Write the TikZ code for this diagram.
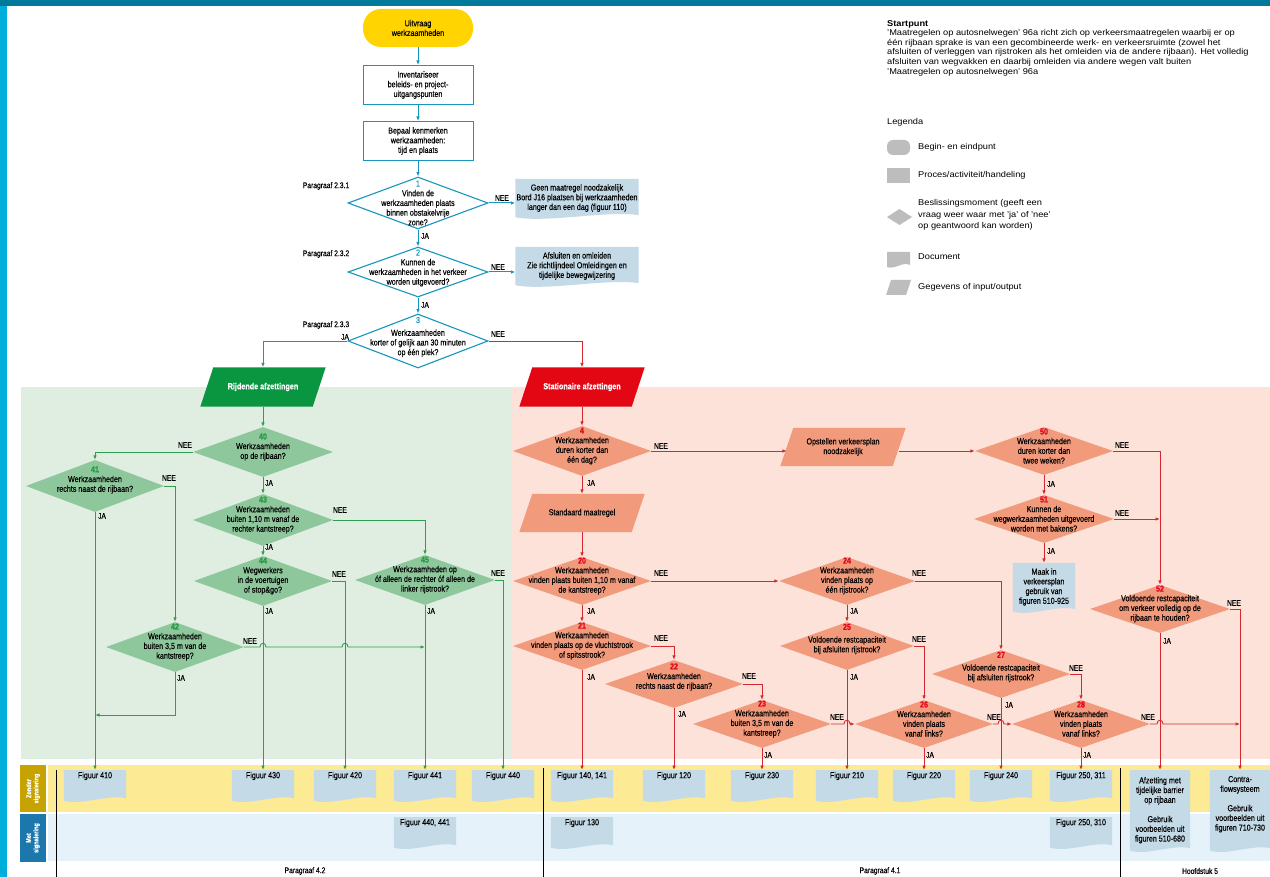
\documentclass[tikz,border=0pt]{standalone}
\usepackage{fontspec}
\setmainfont{Liberation Sans}[FakeStretch=0.82,FakeBold=0.25]
\newfontfamily\legfont{Liberation Sans}[FakeStretch=1.1]
\usetikzlibrary{shapes.geometric,arrows.meta,calc}
\pgfdeclarelayer{bg}
\pgfdeclarelayer{mid}
\pgfsetlayers{bg,mid,main}
\definecolor{topbar}{HTML}{00799B}
\definecolor{cyanstrip}{HTML}{00AEDB}
\definecolor{bline}{HTML}{1596BE}
\definecolor{gline}{HTML}{2E9E4F}
\definecolor{rline}{HTML}{D42A2F}
\definecolor{gdia}{HTML}{8FC79C}
\definecolor{rdia}{HTML}{F19A7C}
\definecolor{gnum}{HTML}{1F9A3E}
\definecolor{rnum}{HTML}{E2001A}
\definecolor{gpar}{HTML}{0A9640}
\definecolor{rpar}{HTML}{E30613}
\definecolor{docblue}{HTML}{C5DAE7}
\definecolor{greenbg}{HTML}{DFEEE0}
\definecolor{salmonbg}{HTML}{FCE2D8}
\definecolor{yband}{HTML}{FDEA95}
\definecolor{bband}{HTML}{E5F2FA}
\definecolor{goldside}{HTML}{C6A300}
\definecolor{blueside}{HTML}{1C77AC}
\definecolor{startyel}{HTML}{FFD400}
\definecolor{leggray}{HTML}{BDBDBD}
\newcommand{\gn}[1]{\textcolor{gnum}{\bfseries #1}}
\newcommand{\rn}[1]{\textcolor{rnum}{\bfseries #1}}
\newcommand{\docfill}[2]{%
  \begin{pgfonlayer}{mid}
  \fill[#1] (#2.north west) -- (#2.north east) -- ($(#2.south east)+(0,-2)$)
   .. controls ($(#2.south)!0.5!(#2.south east)+(0,-7)$) and ($(#2.south)!0.5!(#2.south west)+(0,6)$) .. (#2.south west) -- cycle;
  \end{pgfonlayer}}
\newcommand{\parfill}[2]{%
  \begin{pgfonlayer}{mid}
  \fill[#1] ($(#2.north west)+(6.5,0)$) -- ($(#2.north east)+(6.5,0)$) -- ($(#2.south east)+(-6.5,0)$) -- ($(#2.south west)+(-6.5,0)$) -- cycle;
  \end{pgfonlayer}}
\tikzset{
  txt/.style={font=\fontsize{8.7}{9.7}\selectfont, align=center, inner sep=0pt},
  lab/.style={font=\fontsize{8.2}{8.5}\selectfont, inner sep=0pt},
  legt/.style={font=\legfont\fontsize{8.4}{9.6}\selectfont, inner sep=0pt, anchor=west},
  dia/.style n args={3}{diamond, fill=#1, inner sep=0pt, minimum width=#2pt, minimum height=#3pt},
  bdia/.style 2 args={diamond, draw=bline, line width=1.1pt, fill=white, inner sep=0pt, minimum width=#1pt, minimum height=#2pt},
  proc/.style={txt, draw=bline, line width=1pt, fill=white, minimum width=110pt, minimum height=39pt},
  partxt/.style={txt, minimum width=112pt, minimum height=38pt},
  fig/.style={font=\fontsize{8.7}{9.7}\selectfont, inner xsep=0pt, inner ysep=2pt, minimum width=62pt, text height=6pt, text depth=20pt, anchor=north},
  bl/.style={draw=bline, line width=1pt, ->},
  gl/.style={draw=gline, line width=0.9pt},
  rl/.style={draw=rline, line width=0.9pt},
  sidel/.style={rotate=90, text=white, font=\fontsize{6.8}{7.4}\selectfont\bfseries, align=center, inner sep=0pt}
}
\begin{document}
\begin{tikzpicture}[x=1pt,y=-1pt,>={Latex[length=4.5pt,width=3.6pt]}]
\useasboundingbox (0,0) rectangle (1270,877);
\begin{pgfonlayer}{bg}
\fill[white] (0,0) rectangle (1270,877);
\fill[topbar] (0,0) rectangle (1270,6);
\fill[cyanstrip] (0,6) rectangle (7,877);
\fill[greenbg] (21,387) rectangle (511,759);
\fill[salmonbg] (511,387) rectangle (1270,759);
\fill[yband] (48,765) rectangle (1270,812);
\fill[bband] (48,814) rectangle (1270,861);
\fill[goldside] (20,765) rectangle (46,812);
\fill[blueside] (20,814) rectangle (46,862);
\end{pgfonlayer}
\draw[black, line width=0.7pt] (56,770) -- (56,877);
\draw[black, line width=0.7pt] (543,768) -- (543,877);
\draw[black, line width=0.7pt] (1120,768) -- (1120,877);

% ---------- legend ----------
\node[anchor=north west, align=left, inner sep=0pt, font=\legfont\fontsize{8.4}{9.6}\selectfont] (sp) at (887,20)
 {\textbf{Startpunt}\\
  ’Maatregelen op autosnelwegen’ 96a richt zich op verkeersmaatregelen waarbij er op\\
  één rijbaan sprake is van een gecombineerde werk- en verkeersruimte (zowel het\\
  afsluiten of verleggen van rijstroken als het omleiden via de andere rijbaan). Het volledig\\
  afsluiten van wegvakken en daarbij omleiden via andere wegen valt buiten\\
  ’Maatregelen op autosnelwegen’ 96a};
\node[legt] (lg) at (887,122) {Legenda};
\fill[leggray, rounded corners=6pt] (887,140) rectangle (910,155);
\node[legt] (lg1) at (918,147) {Begin- en eindpunt};
\fill[leggray] (887,168) rectangle (910,183);
\node[legt] (lg2) at (918,175) {Proces/activiteit/handeling};
\fill[leggray] (887,217) -- (899.5,209) -- (912,217) -- (899.5,225) -- cycle;
\node[legt, align=left] (lg3) at (918,215) {Beslissingsmoment (geeft een\\[2pt]vraag weer waar met ’ja’ of ’nee’\\[2pt]op geantwoord kan worden)};
\fill[leggray] (887,252) -- (910,252) -- (910,265) .. controls (903,261) and (895,270) .. (887,267) -- cycle;
\node[legt] (lg4) at (918,257) {Document};
\fill[leggray] (891,280) -- (911,280) -- (906,295) -- (886,295) -- cycle;
\node[legt] (lg5) at (918,287) {Gegevens of input/output};

% ---------- top flow ----------
\node[txt, fill=startyel, rounded corners=18pt, minimum width=110pt, minimum height=38pt] (start) at (418,28) {Uitvraag\\werkzaamheden};
\node[proc] (p1) at (418,85) {Inventariseer\\beleids- en project-\\uitgangspunten};
\node[proc] (p2) at (418,141) {Bepaal kenmerken\\werkzaamheden:\\tijd en plaats};
\node[bdia={140}{52}] (d1) at (418,203) {};
\node[txt] (t1) at (418,203) {\textcolor{bline}{1}\\Vinden de\\werkzaamheden plaats\\binnen obstakelvrije\\zone?};
\node[bdia={140}{50}] (d2) at (418,272) {};
\node[txt] (t2) at (418,268) {\textcolor{bline}{2}\\Kunnen de\\werkzaamheden in het verkeer\\worden uitgevoerd?};
\node[bdia={140}{54}] (d3) at (418,341) {};
\node[txt] (t3) at (418,337) {\textcolor{bline}{3}\\[3pt]Werkzaamheden\\korter of gelijk aan 30 minuten\\op één plek?};
\node[lab] (pa1) at (326,186) {Paragraaf 2.3.1};
\node[lab] (pa2) at (326,254) {Paragraaf 2.3.2};
\node[lab] (pa3) at (326,325) {Paragraaf 2.3.3};
\node[txt, minimum width=123pt, minimum height=38pt] (doc1) at (577,198) {Geen maatregel noodzakelijk\\Bord J16 plaatsen bij werkzaamheden\\langer dan een dag (figuur 110)};
\docfill{docblue}{doc1}
\node[txt, minimum width=123pt, minimum height=38pt] (doc2) at (577,266) {Afsluiten en omleiden\\Zie richtlijndeel Omleidingen en\\tijdelijke bewegwijzering};
\docfill{docblue}{doc2}
\draw[bl] (start) -- (p1);
\draw[bl] (p1) -- (p2);
\draw[bl] (p2) -- (d1);
\draw[bl] (d1.east) -- (d1.east -| doc1.west);
\draw[bl] (d1) -- (d2);
\draw[bl] (d2.east) -- (d2.east -| doc2.west);
\draw[bl] (d2) -- (d3);
\node[lab] (l1n) at (502,198) {NEE};
\node[lab] (l1j) at (425,236) {JA};
\node[lab] (l2n) at (498,267) {NEE};
\node[lab] (l2j) at (425,305) {JA};
\node[lab] (l3n) at (498,334) {NEE};
\node[lab] (l3j) at (345,337) {JA};

% ---------- parallelograms ----------
\node[partxt, text=white, font=\fontsize{8.8}{9}\selectfont\bfseries, minimum height=39pt] (rij) at (263,387) {Rijdende afzettingen};
\parfill{gpar}{rij}
\node[partxt, text=white, font=\fontsize{8.8}{9}\selectfont\bfseries, minimum height=39pt] (stat) at (582,387) {Stationaire afzettingen};
\parfill{rpar}{stat}
\node[partxt] (std) at (582,513) {Standaard maatregel};
\parfill{rdia}{std}
\node[partxt] (opst) at (843,447) {Opstellen verkeersplan\\noodzakelijk};
\parfill{rdia}{opst}
\draw[gl,->] (d3.west) -| (rij.north);
\draw[rl,->] (d3.east) -| (stat.north);

% ---------- green diamonds ----------
\node[dia={gdia}{140}{50}] (d40) at (263,452) {};
\node[txt] (t40) at ($(d40)+(0,-5)$) {\gn{40}\\Werkzaamheden\\op de rijbaan?};
\node[dia={gdia}{138}{52}] (d41) at (95,486) {};
\node[txt] (t41) at ($(d41)+(0,-6)$) {\gn{41}\\Werkzaamheden\\rechts naast de rijbaan?};
\node[dia={gdia}{140}{52}] (d43) at (263,520) {};
\node[txt] (t43) at ($(d43)+(0,-5)$) {\gn{43}\\Werkzaamheden\\buiten 1,10 m vanaf de\\rechter kantstreep?};
\node[dia={gdia}{138}{50}] (d44) at (263,581) {};
\node[txt] (t44) at ($(d44)+(0,-5)$) {\gn{44}\\Wegwerkers\\in de voertuigen\\of stop\&go?};
\node[dia={gdia}{140}{50}] (d45) at (425,580) {};
\node[txt] (t45) at ($(d45)+(0,-5)$) {\gn{45}\\Werkzaamheden op\\óf alleen de rechter óf alleen de\\linker rijstrook?};
\node[dia={gdia}{138}{50}] (d42) at (175,647) {};
\node[txt] (t42) at ($(d42)+(0,-5)$) {\gn{42}\\Werkzaamheden\\buiten 3,5 m van de\\kantstreep?};

% ---------- red diamonds ----------
\node[dia={rdia}{138}{50}] (d4) at (582,451) {};
\node[txt] (t4) at ($(d4)+(0,-5)$) {\rn{4}\\Werkzaamheden\\duren korter dan\\één dag?};
\node[dia={rdia}{138}{48}] (d20) at (582,581) {};
\node[txt] (t20) at ($(d20)+(0,-5)$) {\rn{20}\\Werkzaamheden\\vinden plaats buiten 1,10 m vanaf\\de kantstreep?};
\node[dia={rdia}{138}{48}] (d21) at (582,646) {};
\node[txt] (t21) at ($(d21)+(0,-5)$) {\rn{21}\\Werkzaamheden\\vinden plaats op de vluchtstrook\\of spitsstrook?};
\node[dia={rdia}{138}{48}] (d22) at (674,684) {};
\node[txt] (t22) at ($(d22)+(0,-7)$) {\rn{22}\\Werkzaamheden\\rechts naast de rijbaan?};
\node[dia={rdia}{138}{48}] (d23) at (762,724) {};
\node[txt] (t23) at ($(d23)+(0,-5)$) {\rn{23}\\Werkzaamheden\\buiten 3,5 m van de\\kantstreep?};
\node[dia={rdia}{136}{48}] (d24) at (847,581) {};
\node[txt] (t24) at ($(d24)+(0,-5)$) {\rn{24}\\Werkzaamheden\\vinden plaats op\\één rijstrook?};
\node[dia={rdia}{134}{48}] (d25) at (847,646) {};
\node[txt] (t25) at ($(d25)+(0,-7)$) {\rn{25}\\[3pt]Voldoende restcapaciteit\\bij afsluiten rijstrook?};
\node[dia={rdia}{138}{48}] (d26) at (924,724) {};
\node[txt] (t26) at ($(d26)+(0,-5)$) {\rn{26}\\Werkzaamheden\\vinden plaats\\vanaf links?};
\node[dia={rdia}{138}{48}] (d27) at (1001,674) {};
\node[txt] (t27) at ($(d27)+(0,-7)$) {\rn{27}\\[3pt]Voldoende restcapaciteit\\bij afsluiten rijstrook?};
\node[dia={rdia}{138}{48}] (d28) at (1081,724) {};
\node[txt] (t28) at ($(d28)+(0,-5)$) {\rn{28}\\Werkzaamheden\\vinden plaats\\vanaf links?};
\node[dia={rdia}{138}{48}] (d50) at (1044,451) {};
\node[txt] (t50) at ($(d50)+(0,-5)$) {\rn{50}\\Werkzaamheden\\duren korter dan\\twee weken?};
\node[dia={rdia}{140}{48}] (d51) at (1044,519) {};
\node[txt] (t51) at ($(d51)+(0,-5)$) {\rn{51}\\Kunnen de\\wegwerkzaamheden uitgevoerd\\worden met bakens?};
\node[dia={rdia}{140}{48}] (d52) at (1160,609) {};
\node[txt] (t52) at ($(d52)+(0,-5)$) {\rn{52}\\Voldoende restcapaciteit\\om verkeer volledig op de\\rijbaan te houden?};
\node[txt, minimum width=62pt, minimum height=48pt] (maak) at (1044,587) {Maak in\\verkeersplan\\gebruik van\\figuren 510-925};
\docfill{docblue}{maak}

% ---------- figure boxes ----------
\node[fig] (f410) at (95,770) {Figuur 410};
\node[fig] (f430) at (263,770) {Figuur 430};
\node[fig] (f420) at (345,770) {Figuur 420};
\node[fig] (f441) at (425,770) {Figuur 441};
\node[fig] (f440) at (503,770) {Figuur 440};
\node[fig] (f140) at (582,770) {Figuur 140, 141};
\node[fig] (f120) at (674,770) {Figuur 120};
\node[fig] (f230) at (762,770) {Figuur 230};
\node[fig] (f210) at (847,770) {Figuur 210};
\node[fig] (f220) at (924,770) {Figuur 220};
\node[fig] (f240) at (1001,770) {Figuur 240};
\node[fig] (f250) at (1081,770) {Figuur 250, 311};
\node[fig] (f440b) at (425,817) {Figuur 440, 441};
\node[fig] (f130) at (582,817) {Figuur 130};
\node[fig] (f250b) at (1081,817) {Figuur 250, 310};
\foreach \f in {f410,f430,f420,f441,f440,f140,f120,f230,f210,f220,f240,f250,f440b,f130,f250b}{\docfill{docblue}{\f}}
\node[txt, minimum width=60pt, minimum height=80pt, anchor=north] (afz) at (1160,770) {Afzetting met\\tijdelijke barrier\\op rijbaan\\[9.7pt]Gebruik\\voorbeelden uit\\figuren 510-680};
\docfill{docblue}{afz}
\node[txt, minimum width=60pt, minimum height=80pt, anchor=north] (contra) at (1240,770) {Contra-\\flowsysteem\\[9.7pt]Gebruik\\voorbeelden uit\\figuren 710-730\\[4pt]};
\docfill{docblue}{contra}

% ---------- green connectors ----------
\coordinate (j41) at (95,715);
\draw[gl,->] (rij) -- (d40);
\draw[gl,->] (d40.west) -| (d41.north);
\draw[gl,->] (d40) -- (d43);
\draw[gl,->] (d43.east) -| (d45.north);
\draw[gl,->] (d43) -- (d44);
\draw[gl,->] (d44.east) -| (f420.north);
\draw[gl,->] (d44.south) -- (f430.north);
\draw[gl,->] (d45.east) -| (f440.north);
\draw[gl,->] (d45.south) -- (f441.north);
\draw[gl,->] (d41.east) -| (d42.north);
\draw[gl,->] (d41.south) -- (f410.north);
\draw[gl,->] (d42.south) |- (j41);
\coordinate (hD) at (d44.south |- d42.east);
\coordinate (hE) at (f420.north |- d42.east);
\draw[gl,->] (d42.east) -- ($(hD)+(-3,0)$) .. controls +(0,-5) and +(0,-5) .. ($(hD)+(3,0)$)
  -- ($(hE)+(-3,0)$) .. controls +(0,-5) and +(0,-5) .. ($(hE)+(3,0)$) -- (d42.east -| d45.south);
\node[lab] (g40n) at (185,445) {NEE};
\node[lab] (g40j) at (269,483) {JA};
\node[lab] (g41n) at (169,478) {NEE};
\node[lab] (g41j) at (102,516) {JA};
\node[lab] (g43n) at (340,510) {NEE};
\node[lab] (g43j) at (269,547) {JA};
\node[lab] (g44n) at (339,574) {NEE};
\node[lab] (g44j) at (269,611) {JA};
\node[lab] (g45n) at (498,573) {NEE};
\node[lab] (g45j) at (431,611) {JA};
\node[lab] (g42n) at (250,641) {NEE};
\node[lab] (g42j) at (181,678) {JA};

% ---------- red connectors ----------
\draw[rl,->] (stat) -- (d4);
\draw[rl,->] (d4.east) -- (d4.east -| opst.west);
\draw[rl,->] (opst.east |- d50.west) -- (d50.west);
\draw[rl,->] (d4) -- (std);
\draw[rl,->] (std) -- (d20);
\draw[rl,->] (d20.east) -- (d24.west);
\draw[rl,->] (d20) -- (d21);
\draw[rl,->] (d21.east) -| (d22.north);
\draw[rl,->] (d21.south) -- (f140.north);
\draw[rl,->] (d22.east) -| (d23.north);
\draw[rl,->] (d22.south) -- (f120.north);
\draw[rl,->] (d23.south) -- (f230.north);
\draw[rl,->] (d24.east) -| (d27.north);
\draw[rl,->] (d24) -- (d25);
\draw[rl,->] (d25.east) -| (d26.north);
\draw[rl,->] (d25.south) -- (f210.north);
\draw[rl,->] (d26.south) -- (f220.north);
\draw[rl,->] (d27.east) -| (d28.north);
\draw[rl,->] (d27.south) -- (f240.north);
\draw[rl,->] (d28.south) -- (f250.north);
\draw[rl,->] (d50.east) -| (d52.north);
\draw[rl,->] (d50) -- (d51);
\draw[rl,->] (d51.east) -- (d51.east -| d52.north);
\draw[rl,->] (d51.south) -- (maak.north);
\draw[rl,->] (d52.east) -| (contra.north);
\draw[rl,->] (d52.south) -- (afz.north);
\coordinate (hA) at (d25.south |- d23.east);
\coordinate (hB) at (d27.south |- d26.east);
\coordinate (hC) at (d52.south |- d28.east);
\draw[rl,->] (d23.east) -- ($(hA)+(-3,0)$) .. controls +(0,-5) and +(0,-5) .. ($(hA)+(3,0)$) -- (d26.west);
\draw[rl,->] (d26.east) -- ($(hB)+(-3,0)$) .. controls +(0,-5) and +(0,-5) .. ($(hB)+(3,0)$) -- (d28.west);
\draw[rl,->] (d28.east) -- ($(hC)+(-3,0)$) .. controls +(0,-5) and +(0,-5) .. ($(hC)+(3,0)$) -- (d28.east -| contra.north);
\node[lab] (r4n) at (661,446) {NEE};
\node[lab] (r4j) at (591,483) {JA};
\node[lab] (r20n) at (661,573) {NEE};
\node[lab] (r20j) at (591,611) {JA};
\node[lab] (r21n) at (661,638) {NEE};
\node[lab] (r21j) at (591,677) {JA};
\node[lab] (r22n) at (749,676) {NEE};
\node[lab] (r22j) at (682,714) {JA};
\node[lab] (r23n) at (837,717) {NEE};
\node[lab] (r23j) at (768,755) {JA};
\node[lab] (r24n) at (919,573) {NEE};
\node[lab] (r24j) at (854,611) {JA};
\node[lab] (r25n) at (919,639) {NEE};
\node[lab] (r25j) at (854,677) {JA};
\node[lab] (r26n) at (994,717) {NEE};
\node[lab] (r26j) at (930,755) {JA};
\node[lab] (r27n) at (1076,668) {NEE};
\node[lab] (r27j) at (1009,705) {JA};
\node[lab] (r28n) at (1148,717) {NEE};
\node[lab] (r28j) at (1087,755) {JA};
\node[lab] (r50n) at (1122,445) {NEE};
\node[lab] (r50j) at (1051,484) {JA};
\node[lab] (r51n) at (1122,513) {NEE};
\node[lab] (r51j) at (1051,551) {JA};
\node[lab] (r52n) at (1234,603) {NEE};
\node[lab] (r52j) at (1167,641) {JA};

% ---------- side and bottom labels ----------
\node[sidel] (zs) at (33,788.5) {Zonder\\signalering};
\node[sidel] (ms) at (33,838) {Met\\signalering};
\node[lab] (b42) at (305,871) {Paragraaf 4.2};
\node[lab] (b41) at (880,871) {Paragraaf 4.1};
\node[lab] (h5) at (1200,871) {Hoofdstuk 5};
\end{tikzpicture}
\end{document}
